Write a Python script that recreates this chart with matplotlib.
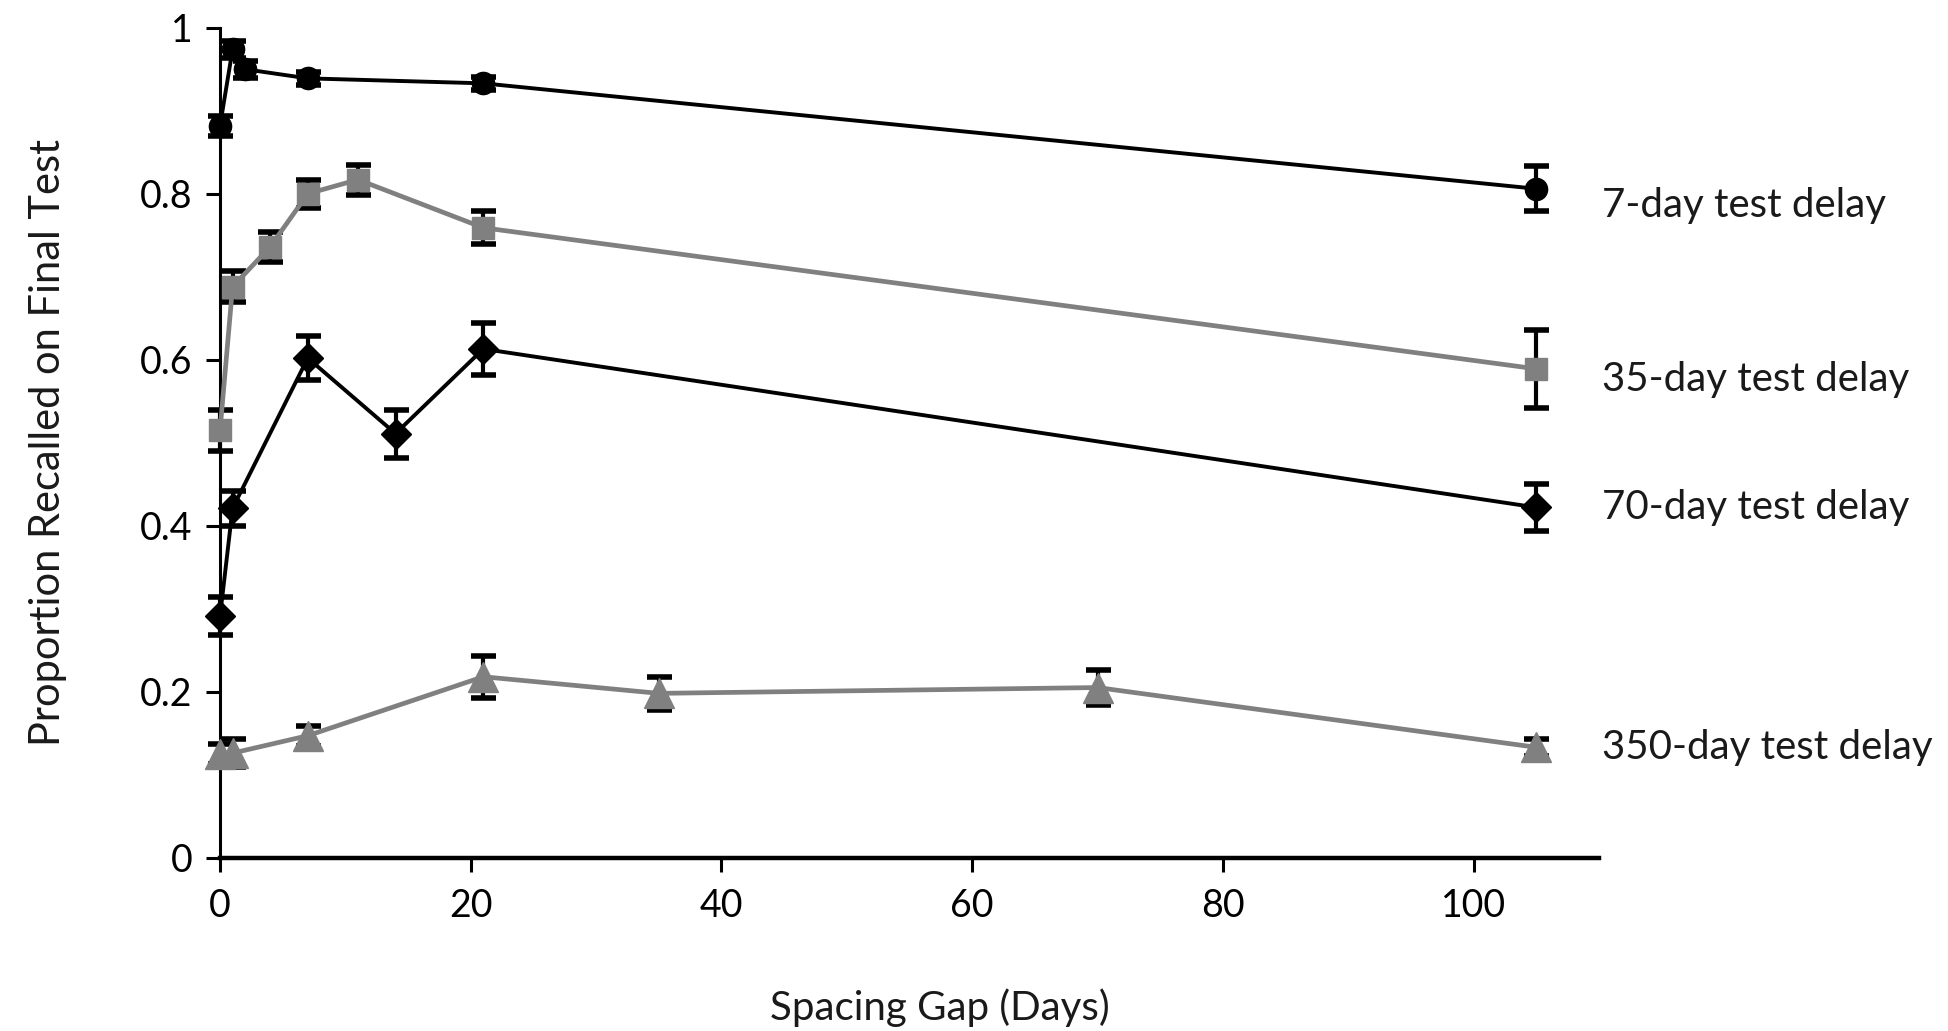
import matplotlib
matplotlib.use("Agg")
import matplotlib.pyplot as plt
from matplotlib.ticker import FuncFormatter

plt.rcParams['font.family'] = ['Lato', 'DejaVu Sans']

# spacing gap (days), mean proportion recalled, error bar half-width
gap_7 = [0, 1, 2, 7, 21, 105]
rec_7 = [0.882, 0.974, 0.950, 0.939, 0.933, 0.806]
err_7 = [0.012, 0.010, 0.010, 0.008, 0.008, 0.027]

gap_35 = [0, 1, 4, 7, 11, 21, 105]
rec_35 = [0.515, 0.688, 0.736, 0.800, 0.817, 0.759, 0.589]
err_35 = [0.025, 0.019, 0.018, 0.017, 0.018, 0.020, 0.047]

gap_70 = [0, 1, 7, 14, 21, 105]
rec_70 = [0.291, 0.421, 0.602, 0.511, 0.613, 0.422]
err_70 = [0.023, 0.021, 0.027, 0.029, 0.031, 0.028]

gap_350 = [0, 1, 7, 21, 35, 70, 105]
rec_350 = [0.125, 0.126, 0.147, 0.218, 0.198, 0.205, 0.133]
err_350 = [0.012, 0.017, 0.012, 0.025, 0.020, 0.021, 0.010]

labels = ['7-day test delay', '35-day test delay', '70-day test delay', '350-day test delay']

fig = plt.figure(figsize=(19.49, 10.31), dpi=100)
ax = fig.add_axes([0.1129, 0.1681, 0.7075, 0.805])

grey = '#808080'
series = [
    (gap_7, rec_7, err_7, 'k', 'o', 16, 2.8, -12),
    (gap_35, rec_35, err_35, grey, 's', 16, 3.4, -8),
    (gap_70, rec_70, err_70, 'k', 'D', 15, 2.8, 0),
    (gap_350, rec_350, err_350, grey, '^', 21, 3.4, 0),
]

for (x, y, e, col, mk, ms, lw, dy), lab in zip(series, labels):
    ax.errorbar(x, y, yerr=e, fmt='none', ecolor='k', elinewidth=3,
                capsize=9, capthick=4, zorder=3, clip_on=False)
    ax.plot(x, y, color=col, lw=lw, marker=mk, ms=ms, mfc=col, mec=col,
            zorder=4, clip_on=False)
    # series name to the right of the last point
    ax.annotate(lab, xy=(110, y[-1]), xytext=(2, dy), textcoords='offset points',
                fontsize=29, va='center', ha='left', color='#1a1a1a',
                annotation_clip=False)

ax.set_xlim(0, 110)
ax.set_ylim(0, 1)
ax.set_xticks([0, 20, 40, 60, 80, 100])
ax.set_yticks([0, 0.2, 0.4, 0.6, 0.8, 1.0])
ax.yaxis.set_major_formatter(FuncFormatter(lambda v, p: '%g' % v))

for s in ['top', 'right']:
    ax.spines[s].set_visible(False)
ax.spines['left'].set_linewidth(2.2)
ax.spines['bottom'].set_linewidth(3.2)
ax.tick_params(axis='both', direction='out', length=10, width=2.2,
               labelsize=27, colors='k')
ax.tick_params(axis='y', pad=10)
ax.tick_params(axis='x', pad=12)

ax.set_xlabel('Spacing Gap (Days)', fontsize=29, labelpad=46, color='#1a1a1a')
ax.xaxis.label.set_x(0.522)
ax.set_ylabel('Proportion Recalled on Final Test', fontsize=30, labelpad=52,
              color='#1a1a1a')

fig.savefig('out.png', dpi=100)
